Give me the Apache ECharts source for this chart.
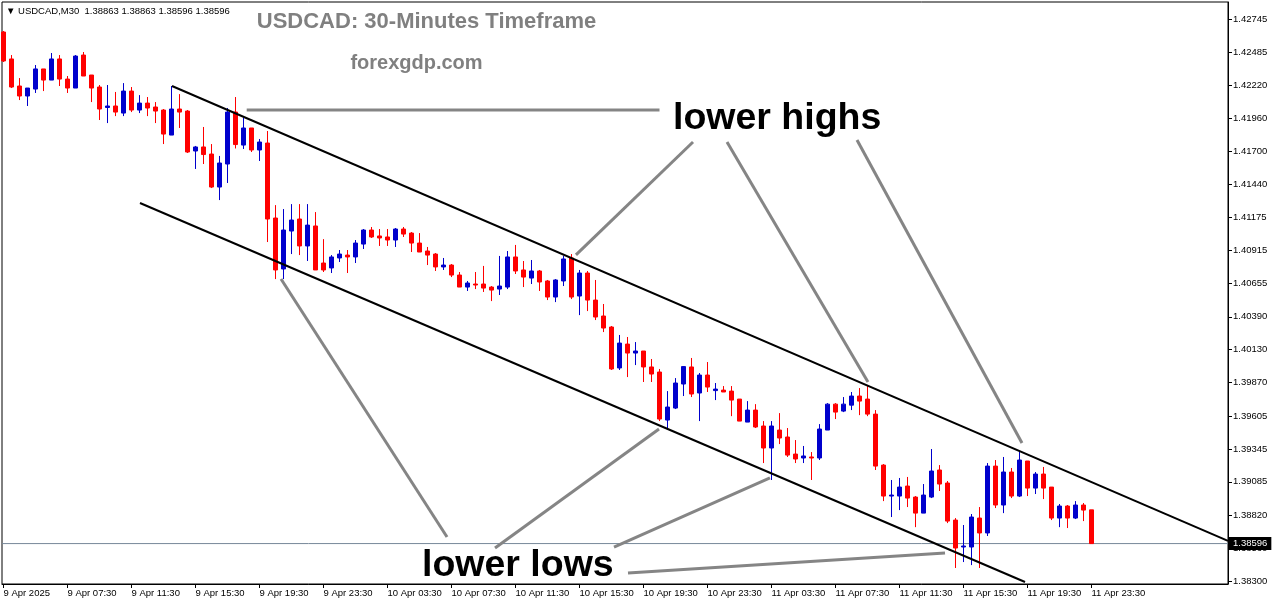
<!DOCTYPE html>
<html><head><meta charset="utf-8">
<script src="https://cdn.jsdelivr.net/npm/echarts@6/dist/echarts.min.js"></script>
<style>html,body{margin:0;padding:0;background:#fff}#c{width:1276px;height:604px}</style>
</head><body><div id="c"></div>
<script>
// ---- DATA ----
const xLabels = ['9 Apr 2025','9 Apr 07:30','9 Apr 11:30','9 Apr 15:30','9 Apr 19:30','9 Apr 23:30',
  '10 Apr 03:30','10 Apr 07:30','10 Apr 11:30','10 Apr 15:30','10 Apr 19:30','10 Apr 23:30',
  '11 Apr 03:30','11 Apr 07:30','11 Apr 11:30','11 Apr 15:30','11 Apr 19:30','11 Apr 23:30'];
const xLabelBars = [0,8,16,24,32,40,48,56,64,72,80,88,96,104,112,120,128,136];
const yTickLabels = [1.38300,1.38560,1.38820,1.39085,1.39345,1.39605,1.39870,1.40130,1.40390,
  1.40655,1.40915,1.41175,1.41440,1.41700,1.41960,1.42220,1.42485,1.42745];

const opens = [1.42642,1.42429,1.42215,1.42136,1.42191,1.42350,1.42262,1.42429,1.42270,1.42199,
 1.42460,1.42302,1.42207,1.42045,1.42057,1.42001,1.42175,1.42025,1.42080,1.42049,
 1.42025,1.41827,1.42033,1.42017,1.41701,1.41733,1.41677,1.41416,1.41598,1.42009,
 1.41748,1.41883,1.41709,1.41764,1.41171,1.40768,1.41068,1.41163,1.40950,1.41108,
 1.40815,1.40776,1.40855,1.40878,1.40863,1.40965,1.41076,1.41029,1.41021,1.40997,
 1.41084,1.41052,1.40973,1.40910,1.40886,1.40784,1.40799,1.40720,1.40625,1.40649,
 1.40649,1.40625,1.40609,1.40625,1.40863,1.40760,1.40696,1.40752,1.40673,1.40546,
 1.40673,1.40855,1.40554,1.40736,1.40522,1.40396,1.40309,1.39985,1.40174,1.40103,
 1.40119,1.39993,1.39953,1.39573,1.39668,1.39858,1.39993,1.39787,1.39929,1.39806,
 1.39810,1.39802,1.39739,1.39557,1.39652,1.39526,1.39352,1.39494,1.39439,1.39304,
 1.39273,1.39281,1.39273,1.39494,1.39699,1.39644,1.39691,1.39763,1.39739,1.39620,
 1.39217,1.38972,1.38972,1.39051,1.38964,1.38837,1.38964,1.39178,1.39075,1.38782,
 1.38569,1.38569,1.38798,1.38680,1.39209,1.38901,1.39162,1.38972,1.39249,1.39035,
 1.39146,1.39043,1.38798,1.38893,1.38798,1.38901,1.38863];
const highs = [1.42650,1.42460,1.42278,1.42199,1.42381,1.42350,1.42476,1.42460,1.42294,1.42460,
 1.42484,1.42302,1.42223,1.42223,1.42168,1.42238,1.42207,1.42143,1.42128,1.42088,
 1.42033,1.42215,1.42151,1.42025,1.41741,1.41891,1.41756,1.41662,1.42041,1.42128,
 1.41962,1.41883,1.41796,1.41859,1.41273,1.41242,1.41281,1.41281,1.41281,1.41218,
 1.41004,1.40878,1.40918,1.40918,1.40997,1.41084,1.41100,1.41084,1.41084,1.41092,
 1.41100,1.41060,1.41052,1.40942,1.40894,1.40855,1.40807,1.40744,1.40673,1.40744,
 1.40792,1.40633,1.40871,1.40910,1.40958,1.40831,1.40839,1.40760,1.40681,1.40688,
 1.40871,1.40886,1.40760,1.40752,1.40681,1.40491,1.40317,1.40246,1.40230,1.40190,
 1.40119,1.40056,1.39977,1.39802,1.39905,1.40000,1.40064,1.39945,1.40032,1.39866,
 1.39842,1.39842,1.39739,1.39723,1.39699,1.39565,1.39565,1.39628,1.39510,1.39415,
 1.39368,1.39320,1.39541,1.39707,1.39707,1.39755,1.39795,1.39826,1.39850,1.39652,
 1.39225,1.39099,1.39115,1.39123,1.38972,1.39067,1.39344,1.39217,1.39091,1.38798,
 1.38743,1.38830,1.38885,1.39233,1.39257,1.39281,1.39194,1.39328,1.39249,1.39162,
 1.39202,1.39043,1.38909,1.38901,1.38932,1.38917,1.38863];
const lows = [1.42405,1.42199,1.42104,1.42057,1.42160,1.42175,1.42262,1.42215,1.42160,1.42199,
 1.42294,1.42088,1.41946,1.41922,1.41977,1.41977,1.42009,1.42001,1.41977,1.41922,
 1.41756,1.41827,1.41883,1.41685,1.41559,1.41598,1.41408,1.41313,1.41448,1.41721,
 1.41717,1.41693,1.41622,1.40981,1.40688,1.40688,1.40886,1.40878,1.40831,1.40760,
 1.40744,1.40736,1.40823,1.40736,1.40815,1.40926,1.41013,1.40950,1.40950,1.40942,
 1.41021,1.40902,1.40902,1.40799,1.40752,1.40760,1.40704,1.40625,1.40594,1.40609,
 1.40586,1.40514,1.40562,1.40609,1.40728,1.40625,1.40649,1.40594,1.40522,1.40506,
 1.40633,1.40530,1.40403,1.40435,1.40364,1.40269,1.39969,1.39969,1.39913,1.40008,
 1.39874,1.39874,1.39565,1.39510,1.39660,1.39763,1.39755,1.39565,1.39795,1.39731,
 1.39795,1.39604,1.39565,1.39557,1.39510,1.39233,1.39099,1.39383,1.39281,1.39233,
 1.39233,1.39099,1.39257,1.39494,1.39581,1.39636,1.39652,1.39612,1.39604,1.39178,
 1.38932,1.38806,1.38861,1.38885,1.38726,1.38837,1.38956,1.39012,1.38758,1.38403,
 1.38450,1.38426,1.38403,1.38656,1.38877,1.38837,1.38956,1.38964,1.38972,1.38988,
 1.38948,1.38782,1.38726,1.38719,1.38790,1.38774,1.38596];
const closes = [1.42413,1.42207,1.42136,1.42199,1.42350,1.42262,1.42429,1.42270,1.42199,1.42452,
 1.42294,1.42199,1.42033,1.42057,1.42009,1.42175,1.42025,1.42080,1.42041,1.42017,
 1.41835,1.42033,1.42009,1.41693,1.41733,1.41673,1.41416,1.41606,1.42009,1.41752,
 1.41883,1.41709,1.41772,1.41163,1.40760,1.41076,1.41155,1.40950,1.41115,1.40760,
 1.40760,1.40863,1.40886,1.40863,1.40973,1.41076,1.41021,1.41013,1.40997,1.41084,
 1.41044,1.40973,1.40902,1.40878,1.40784,1.40799,1.40720,1.40625,1.40657,1.40641,
 1.40617,1.40601,1.40633,1.40863,1.40752,1.40704,1.40752,1.40665,1.40546,1.40681,
 1.40847,1.40546,1.40736,1.40522,1.40388,1.40301,1.39977,1.40182,1.40103,1.40119,
 1.39993,1.39937,1.39581,1.39676,1.39866,1.39996,1.39779,1.39929,1.39834,1.39818,
 1.39795,1.39731,1.39565,1.39652,1.39518,1.39352,1.39526,1.39431,1.39296,1.39265,
 1.39289,1.39273,1.39502,1.39699,1.39636,1.39699,1.39763,1.39723,1.39620,1.39209,
 1.38972,1.38980,1.39043,1.38956,1.38837,1.38980,1.39170,1.39067,1.38774,1.38561,
 1.38577,1.38806,1.38680,1.39209,1.38901,1.39162,1.38972,1.39257,1.39035,1.39146,
 1.39035,1.38798,1.38893,1.38798,1.38901,1.38861,1.38596];

const lastPrice = 1.38596;
const headerText = '\u25BC USDCAD,M30  1.38863 1.38863 1.38596 1.38596';
const titleText = 'USDCAD: 30-Minutes Timeframe';
const siteText = 'forexgdp.com';
const highsText = 'lower highs';
const lowsText = 'lower lows';

// channel lines (bar index, price)
const channelLines = [
  [[21.06, 1.42215], [153.06, 1.38617]],
  [[17.06, 1.41290], [127.69, 1.38292]]
];
// grey pointer lines (bar index, price)
const arrowLines = [
  [[30.4, 1.42025], [82.0, 1.42025]],
  [[86.19, 1.41772], [71.56, 1.40879]],
  [[90.44, 1.41772], [108.06, 1.39874]],
  [[106.69, 1.41788], [127.31, 1.39392]],
  [[34.69, 1.40689], [55.44, 1.38648]],
  [[61.44, 1.38561], [81.94, 1.39502]],
  [[76.31, 1.38569], [95.81, 1.39115]],
  [[78.06, 1.38363], [117.69, 1.38522]]
];

// ---- CHART ----
const X_MIN = -0.1875, X_MAX = 153.0625;
const candleData = opens.map((o, i) => [i, o, closes[i], lows[i], highs[i]]);
const FONT = '"Liberation Sans", Arial, sans-serif';

const series = [{
  type: 'line',
  data: [[X_MIN, lastPrice], [X_MAX, lastPrice]],
  symbol: 'none', silent: true, z: 1, animation: false,
  lineStyle: { color: '#778899', width: 1 },
  endLabel: { show: true, formatter: lastPrice.toFixed(5), backgroundColor: '#000',
    color: '#fff', padding: [2, 4, 1, 4], fontSize: 9.5, fontFamily: FONT, distance: 1 }
}, {
  type: 'candlestick',
  data: candleData,
  barWidth: 4,
  silent: true,
  z: 2,
  itemStyle: { color: '#0000cc', color0: '#ff0000', borderColor: '#0000cc', borderColor0: '#ff0000', borderWidth: 1 }
}];
channelLines.forEach(seg => series.push({
  type: 'line', data: seg, symbol: 'none', silent: true, z: 6, animation: false,
  lineStyle: { color: '#000', width: 2 }
}));
arrowLines.forEach(seg => series.push({
  type: 'line', data: seg, symbol: 'none', silent: true, z: 5, animation: false,
  lineStyle: { color: '#858585', width: 3, cap: 'butt' }
}));

const chart = echarts.init(document.getElementById('c'), null, { renderer: 'canvas' });
chart.setOption({
  animation: false,
  backgroundColor: '#fff',
  grid: { left: 2, right: 48, top: 2, bottom: 20, show: true, borderColor: '#000', borderWidth: 1,
    backgroundColor: 'transparent', containLabel: false, outerBoundsMode: 'none' },
  xAxis: {
    type: 'value', min: X_MIN, max: X_MAX,
    splitLine: { show: false },
    axisLine: { show: true, onZero: false, lineStyle: { color: '#000', width: 1 } },
    axisTick: { show: true, length: 4, customValues: xLabelBars, lineStyle: { color: '#000' } },
    axisLabel: { customValues: xLabelBars, formatter: v => xLabels[xLabelBars.indexOf(v)] || '',
      align: 'left', color: '#000', fontSize: 9.5, fontFamily: FONT, margin: 4 }
  },
  yAxis: {
    type: 'value', position: 'right', min: 1.382764, max: 1.428795,
    splitLine: { show: false },
    axisLine: { show: true, onZero: false, lineStyle: { color: '#000', width: 1 } },
    axisTick: { show: true, length: 4, customValues: yTickLabels, lineStyle: { color: '#000' } },
    axisLabel: { customValues: yTickLabels, formatter: v => v.toFixed(5), color: '#000',
      fontSize: 9.5, fontFamily: FONT, margin: 5 }
  },
  series: series,
  graphic: [
    { type: 'text', x: 6, y: 11.5, z: 10, style: { text: headerText, font: '9.5px ' + FONT, fill: '#000', verticalAlign: 'middle' } },
    { type: 'text', x: 426.5, y: 22, z: 10, style: { text: titleText, font: 'bold 22px ' + FONT, fill: '#808080', align: 'center', verticalAlign: 'middle' } },
    { type: 'text', x: 416.5, y: 63, z: 10, style: { text: siteText, font: 'bold 20px ' + FONT, fill: '#808080', align: 'center', verticalAlign: 'middle' } },
    { type: 'text', x: 673, y: 119, z: 10, style: { text: highsText, font: 'bold 37.5px ' + FONT, fill: '#000', align: 'left', verticalAlign: 'middle' } },
    { type: 'text', x: 422, y: 566, z: 10, style: { text: lowsText, font: 'bold 37.5px ' + FONT, fill: '#000', align: 'left', verticalAlign: 'middle' } }
  ]
});
</script>
</body></html>
